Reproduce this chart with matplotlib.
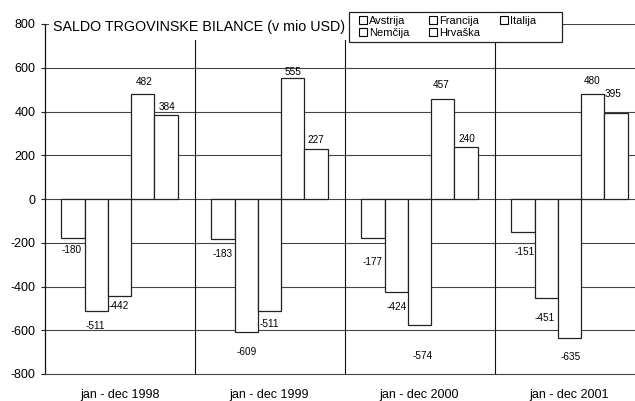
import matplotlib
matplotlib.use("Agg")
import matplotlib.pyplot as plt
from matplotlib.patches import Patch, Rectangle
import numpy as np

plt.rcParams['font.family'] = ['Liberation Sans', 'DejaVu Sans']

# ---- data ----
periods = ["jan - dec 1998", "jan - dec 1999", "jan - dec 2000", "jan - dec 2001"]
countries = ["Avstrija", "Francija", "Italija", "Nemčija", "Hrvaška"]
avstrija = [-180, -183, -177, -151]
francija = [-511, -609, -424, -451]
italija = [-442, -511, -574, -635]
nemcija = [482, 555, 457, 480]
hrvaska = [384, 227, 240, 395]
series = [avstrija, francija, italija, nemcija, hrvaska]
yticks = [-800, -600, -400, -200, 0, 200, 400, 600, 800]
title = "SALDO TRGOVINSKE BILANCE (v mio USD)"

# label nudges in pixels (style only), per series per period
nudges = [
    [(-1, -12), (0, -15), (-0.5, -24), (2, -20)],
    [(-1, -15), (0.7, -20), (0.7, -15), (-1.7, -20)],
    [(-1, -10), (0, -13), (3, -31), (1, -19)],
    [(1.5, 12), (0, 6), (-2, 14), (-0.5, 13)],
    [(0.7, 8), (0, 9), (0.5, 7), (-3, 19)],
]

W, H = 635, 401
fig = plt.figure(figsize=(W / 100, H / 100), dpi=100)
ax = fig.add_axes([44.5 / W, (H - 374) / H, 600 / W, 350 / H])

line_col = '#444444'
x = np.arange(len(periods))
bw = 1 / 6.43
for i, vals in enumerate(series):
    xs = x + (i - 2) * bw
    ax.bar(xs, vals, width=bw, facecolor='white', edgecolor='#222222',
           linewidth=0.9, zorder=3)
    for j, v in enumerate(vals):
        dx, dy = nudges[i][j]
        ax.annotate(str(v), xy=(xs[j], v), xytext=(dx, dy),
                    textcoords='offset pixels', ha='center', va='center',
                    fontsize=7.2, zorder=4)

ax.set_xlim(-0.5, len(periods) - 0.5)
ax.set_ylim(-800, 800)
ax.set_yticks(yticks)
ax.set_yticklabels([str(t) for t in yticks], fontsize=9)
ax.set_xticks(x)
ax.set_xticklabels(periods, fontsize=9)
ax.tick_params(axis='x', length=0, pad=11)
ax.tick_params(axis='y', length=3.2, width=0.8, color='#222222', pad=3.5)

for yv in yticks[1:]:
    ax.axhline(yv, color=line_col, linewidth=0.8, zorder=1)
for xv in x[:-1] + 0.5:
    ax.axvline(xv, ymin=0, ymax=(727 + 800) / 1600, color='#111111',
               linewidth=0.8, zorder=1)

for s in ['top', 'right']:
    ax.spines[s].set_visible(False)
ax.spines['left'].set_color('#111111')
ax.spines['bottom'].set_color(line_col)
ax.spines['left'].set_linewidth(0.9)
ax.spines['bottom'].set_linewidth(0.8)

# title with white background covering the top gridline
fig.text(53 / W, 1 - 30.7 / H, title, fontsize=10.3, va='baseline', ha='left',
         bbox=dict(facecolor='white', edgecolor='none', pad=3), zorder=3)

# legend frame
rect = Rectangle((349 / W, (H - 42) / H), 213 / W, 29.7 / H,
                 transform=fig.transFigure, facecolor='white',
                 edgecolor='#222222', linewidth=0.9, zorder=4)
fig.add_artist(rect)

handles = [Patch(facecolor='white', edgecolor='black', linewidth=0.8) for _ in countries]
order = [0, 3, 1, 4, 2]
leg = fig.legend([handles[k] for k in order], [countries[k] for k in order],
                 ncol=3, loc='upper left', bbox_to_anchor=(359 / W, 1 - 15.5 / H),
                 bbox_transform=fig.transFigure, frameon=False, fontsize=8,
                 borderpad=0, borderaxespad=0, handlelength=0.7,
                 handleheight=0.7, handletextpad=0.2, columnspacing=1.8,
                 labelspacing=0.25)
leg.set_zorder(5)

fig.savefig("out.png", dpi=100)
